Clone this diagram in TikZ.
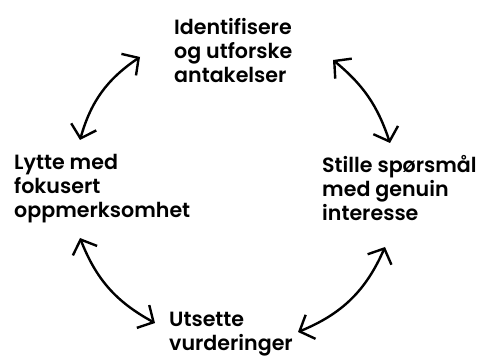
\documentclass[tikz,border=0pt]{standalone}
\usepackage{fontspec}
\setmainfont{Poppins}[BoldFont={Poppins SemiBold}]
\usetikzlibrary{arrows.meta}
\begin{document}
\begin{tikzpicture}[x=1pt,y=-1pt,
  label/.style={anchor=north west,inner sep=0pt,align=left,
    font=\fontsize{20.6pt}{24pt}\selectfont\bfseries},
  cyc/.style={line width=2.4pt,line cap=round,
    {Straight Barb[length=12pt,width=26pt,line width=2.4pt]}-{Straight Barb[length=12pt,width=26pt,line width=2.4pt]}}]
  \useasboundingbox (0,0) rectangle (480,363);
  % the four steps
  \node[label] (top)   at (174,18)  {Identifisere\\og utforske\\antakelser};
  \node[label] (left)  at (14,154)  {Lytte med\\fokusert\\oppmerksomhet};
  \node[label] (right) at (322,155) {Stille spørsmål\\med genuin\\interesse};
  \node[label] (bot)   at (169,312) {Utsette\\vurderinger};
  % arrow end points
  \coordinate (ul1) at (80,140);  \coordinate (ul2) at (140,57);
  \coordinate (ur1) at (333,60);  \coordinate (ur2) at (390,143);
  \coordinate (ll1) at (80,238);  \coordinate (ll2) at (155,323);
  \coordinate (lr1) at (385,247); \coordinate (lr2) at (298,332);
  % two-way arrows around the cycle
  \draw[cyc] (ul1) to[bend left=20] (ul2);
  \draw[cyc] (ur1) to[bend left=16] (ur2);
  \draw[cyc] (ll1) to[bend right=20] (ll2);
  \draw[cyc] (lr1) to[bend left=22] (lr2);
\end{tikzpicture}
\end{document}
